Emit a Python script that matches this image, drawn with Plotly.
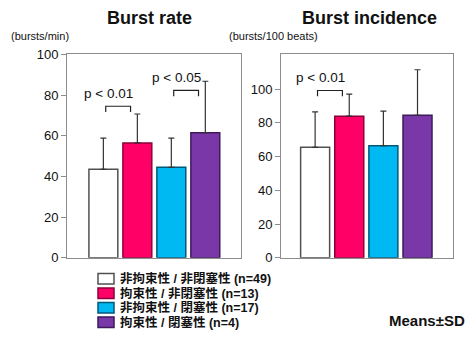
import plotly.graph_objects as go

# ---- data ----
groups = ["非拘束性 / 非閉塞性 (n=49)", "拘束性 / 非閉塞性 (n=13)",
          "非拘束性 / 閉塞性 (n=17)", "拘束性 / 閉塞性 (n=4)"]
rate_mean = [43.5, 56.5, 44.5, 61.5]
rate_sd = [15.3, 14.2, 14.3, 25.3]
inc_mean = [65.5, 84.0, 66.5, 84.5]
inc_sd = [21.0, 13.0, 20.5, 27.0]
rate_sig = [(0, 1, 74.5, "p < 0.01"), (2, 3, 82.3, "p < 0.05")]
inc_sig = [(0, 1, 99.2, "p < 0.01")]
y_ticks_rate = [0, 20, 40, 60, 80, 100]
y_ticks_inc = [0, 20, 40, 60, 80, 100]

fill_colors = ["#FFFFFF", "#FF0066", "#00B9F2", "#7A37A8"]
line_colors = ["#505050", "#8A0038", "#00587A", "#3E1A5C"]

W, H = 470, 337
FONT = "Liberation Sans, Arial, sans-serif"
CJK = "Liberation Sans, Noto Sans CJK JP, sans-serif"

# the photographed page shows the figure slightly squeezed vertically;
# convert a wanted on-screen y (px from top) into figure px
SY_OFF, SY_K = 5.5, 0.958


def fy(y_screen):
    return (y_screen - SY_OFF) / SY_K


fig = go.Figure()

top_px, bot_px = fy(53), fy(257)
ydom = [1 - bot_px / H, 1 - top_px / H]
plot_h = bot_px - top_px

panels = [
    dict(xa="x", ya="y", mean=rate_mean, sd=rate_sd, sig=rate_sig,
         xdom=[67 / W, 241 / W], xr=[-1.07, 4.05], yr=[0, 100], ticks=y_ticks_rate,
         title="Burst rate", unit="(bursts/min)"),
    dict(xa="x2", ya="y2", mean=inc_mean, sd=inc_sd, sig=inc_sig,
         xdom=[281 / W, 453 / W], xr=[-1.0, 4.04], yr=[0, 120.6], ticks=y_ticks_inc,
         title="Burst incidence", unit="(bursts/100 beats)"),
]

for p in panels:
    for i, g in enumerate(groups):
        fig.add_trace(go.Bar(
            x=[i], y=[p["mean"][i]], width=0.85,
            marker=dict(color=fill_colors[i], line=dict(color=line_colors[i], width=1.5)),
            error_y=dict(type="data", symmetric=False, array=[p["sd"][i]], arrayminus=[0],
                         color="#333333", thickness=1.2, width=3),
            xaxis=p["xa"], yaxis=p["ya"], showlegend=False, name=g,
        ))
    units_per_px = (p["yr"][1] - p["yr"][0]) / plot_h
    leg = 6 * units_per_px
    for (a, b, yv, label) in p["sig"]:
        x0, x1 = a + 0.07, b - 0.2
        fig.add_shape(type="path",
                      path=f"M {x0},{yv - leg} L {x0},{yv} L {x1},{yv} L {x1},{yv - leg}",
                      xref=p["xa"], yref=p["ya"], line=dict(color="#222222", width=1.2))
        fig.add_annotation(x=x1 + 0.12, y=yv, xref=p["xa"], yref=p["ya"],
                           text=label, showarrow=False, xanchor="right", yanchor="bottom", yshift=3,
                           font=dict(family=FONT, size=13.5, color="#111111"))

layout_axes = {}
for k, p in enumerate(panels):
    sx = "" if k == 0 else "2"
    layout_axes["xaxis" + sx] = dict(domain=p["xdom"], range=p["xr"], showticklabels=False,
                                     ticks="", showgrid=False, zeroline=False,
                                     showline=True, mirror=True, linecolor="#8C8C8C", linewidth=1,
                                     anchor="y" + sx, fixedrange=True)
    layout_axes["yaxis" + sx] = dict(domain=ydom, range=p["yr"], tickvals=p["ticks"],
                                     ticks="outside", ticklen=5, tickcolor="#8C8C8C",
                                     showgrid=False, zeroline=False,
                                     showline=True, mirror=True, linecolor="#8C8C8C", linewidth=1,
                                     tickfont=dict(family=FONT, size=13, color="#111111"),
                                     anchor="x" + sx, fixedrange=True)

fig.update_layout(width=W, height=H, margin=dict(l=0, r=0, t=0, b=0),
                  paper_bgcolor="white", plot_bgcolor="white",
                  barmode="overlay", showlegend=False, **layout_axes)


def txt(x, y_screen, s, size, xanchor="center", family=FONT):
    fig.add_annotation(x=x / W, y=1 - fy(y_screen) / H, xref="paper", yref="paper", text=s,
                       xanchor=xanchor, yanchor="middle", showarrow=False,
                       font=dict(family=family, size=size, color="#111111"))


# titles and unit labels
txt(149, 17, "<b>" + panels[0]["title"] + "</b>", 18)
txt(369, 17, "<b>" + panels[1]["title"] + "</b>", 18)
txt(9, 35, panels[0]["unit"], 11, "left")
txt(227, 35, panels[1]["unit"], 11, "left")

# legend (drawn manually for tight row spacing)
row_y = [278, 292.5, 307, 321.5]
for i, g in enumerate(groups):
    yc = fy(row_y[i])
    fig.add_shape(type="rect", xref="paper", yref="paper",
                  x0=98 / W, x1=114 / W, y0=1 - (yc + 5.5) / H, y1=1 - (yc - 5.5) / H,
                  fillcolor=fill_colors[i], line=dict(color=line_colors[i], width=1.5))
    txt(118, row_y[i], f"<b>{g}</b>", 12.5, "left", CJK)

txt(467, 320, "<b>Means±SD</b>", 15, "right")

fig.write_html("out.html", config={"displayModeBar": False, "responsive": False})

# remove the default page margin / scrollbars so the 470x337 figure fills the window
with open("out.html", encoding="utf-8") as f:
    html = f.read()
html = html.replace("<head>", "<head><style>html,body{margin:0;padding:0;overflow:hidden}</style>", 1)
with open("out.html", "w", encoding="utf-8") as f:
    f.write(html)
